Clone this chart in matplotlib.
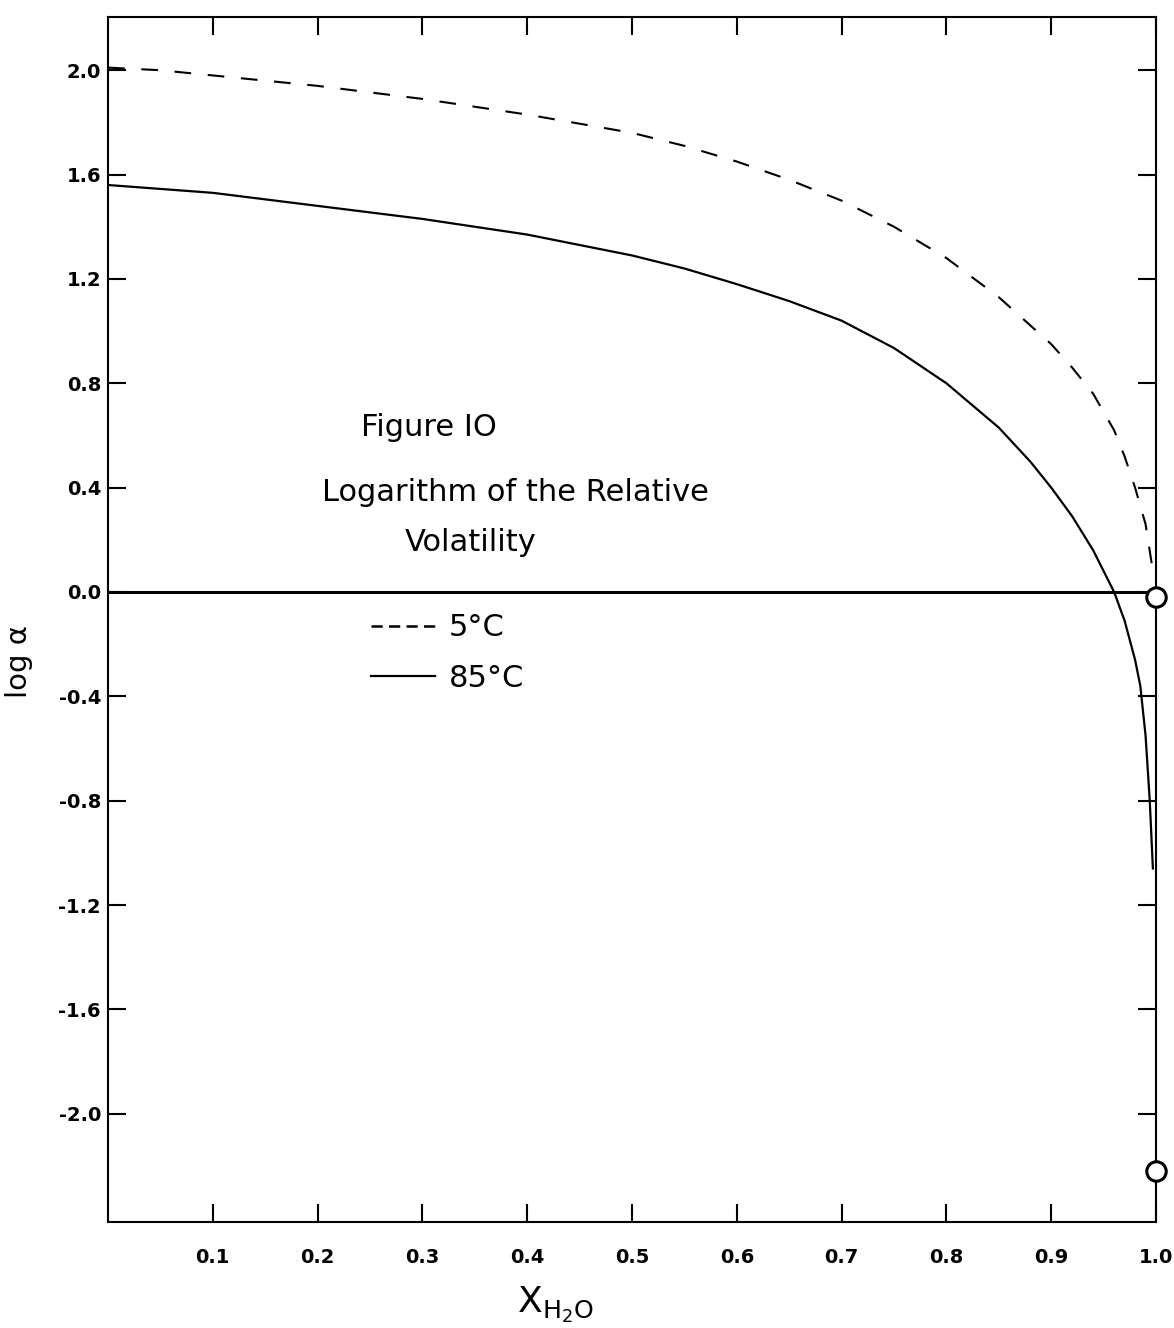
import matplotlib
matplotlib.use('Agg')
import matplotlib.pyplot as plt
from matplotlib.lines import Line2D

# ---- data ----
x_5C = [0.0, 0.05, 0.1, 0.15, 0.2, 0.25, 0.3, 0.35, 0.4, 0.45, 0.5, 0.55, 0.6, 0.65, 0.7,
        0.75, 0.8, 0.85, 0.9, 0.92, 0.94, 0.96, 0.97, 0.98, 0.99, 0.997]
log_alpha_5C = [2.01, 2.00, 1.98, 1.96, 1.94, 1.915, 1.89, 1.86, 1.83, 1.795, 1.76, 1.71, 1.65, 1.58, 1.50,
                1.40, 1.28, 1.13, 0.95, 0.86, 0.76, 0.62, 0.52, 0.40, 0.26, 0.08]

x_85C = [0.0, 0.05, 0.1, 0.15, 0.2, 0.25, 0.3, 0.35, 0.4, 0.45, 0.5, 0.55, 0.6, 0.65, 0.7,
         0.75, 0.8, 0.85, 0.88, 0.9, 0.92, 0.94, 0.96, 0.97, 0.98, 0.985, 0.99, 0.994, 0.997]
log_alpha_85C = [1.56, 1.545, 1.53, 1.505, 1.48, 1.455, 1.43, 1.40, 1.37, 1.33, 1.29, 1.24, 1.18, 1.115, 1.04,
                 0.935, 0.80, 0.63, 0.50, 0.40, 0.29, 0.16, 0.0, -0.11, -0.26, -0.36, -0.55, -0.80, -1.06]

limit_x = [1.0, 1.0]
limit_y = [-0.02, -2.22]

x_ticks = [0.1, 0.2, 0.3, 0.4, 0.5, 0.6, 0.7, 0.8, 0.9, 1.0]
x_tick_labels = ['0.1', '0.2', '0.3', '0.4', '0.5', '0.6', '0.7', '0.8', '0.9', '1.0']
y_ticks = [2.0, 1.6, 1.2, 0.8, 0.4, 0.0, -0.4, -0.8, -1.2, -1.6, -2.0]
y_tick_labels = ['2.0', '1.6', '1.2', '0.8', '0.4', '0.0', '-0.4', '-0.8', '-1.2', '-1.6', '-2.0']

legend_labels = ['5°C', '85°C']
title_lines = ['Figure IO', 'Logarithm of the Relative', 'Volatility']

# ---- figure ----
fig = plt.figure(figsize=(11.74, 13.28), dpi=100)
ax = fig.add_axes([0.092, 0.080, 0.8927, 0.907])

ax.plot(x_5C, log_alpha_5C, color='black', lw=1.5, dashes=(8, 8))
ax.plot(x_85C, log_alpha_85C, color='black', lw=1.6)
ax.axhline(0.0, color='black', lw=2.2)
ax.plot(limit_x, limit_y, linestyle='none', marker='o', markersize=14,
        markerfacecolor='white', markeredgecolor='black', markeredgewidth=2.2,
        clip_on=False, zorder=5)

ax.set_xlim(0.0, 1.0)
ax.set_ylim(-2.414, 2.203)

ax.set_xticks(x_ticks)
ax.set_xticklabels(x_tick_labels)
ax.set_yticks(y_ticks)
ax.set_yticklabels(y_tick_labels)

ax.tick_params(axis='both', direction='in', length=13, width=1.5,
               top=True, right=True, labelsize=14)
ax.tick_params(axis='x', pad=19)
ax.tick_params(axis='y', pad=5)
for lab in ax.get_xticklabels() + ax.get_yticklabels():
    lab.set_fontweight('bold')
for sp in ax.spines.values():
    sp.set_linewidth(1.5)

ax.set_ylabel('log α', fontsize=21)
ax.yaxis.set_label_coords(-0.072, 0.465)
fig.text(0.473, 0.002, r'$\mathregular{X_{H_2O}}$', fontsize=26, ha='center', va='bottom')

# annotation text (placed in data coordinates)
ax.text(0.306, 0.63, title_lines[0], fontsize=22, ha='center', va='center')
ax.text(0.389, 0.38, title_lines[1], fontsize=22, ha='center', va='center')
ax.text(0.346, 0.19, title_lines[2], fontsize=22, ha='center', va='center')

handles = [Line2D([], [], color='black', lw=1.8, dashes=(4.5, 2.5)),
           Line2D([], [], color='black', lw=1.6)]
ax.legend(handles, legend_labels, loc='upper left', bbox_to_anchor=(0.251, 0.505),
          frameon=False, fontsize=22, handlelength=2.1, handletextpad=0.45,
          labelspacing=0.7, borderaxespad=0.0, borderpad=0.0)

fig.savefig('out.png', dpi=100)
